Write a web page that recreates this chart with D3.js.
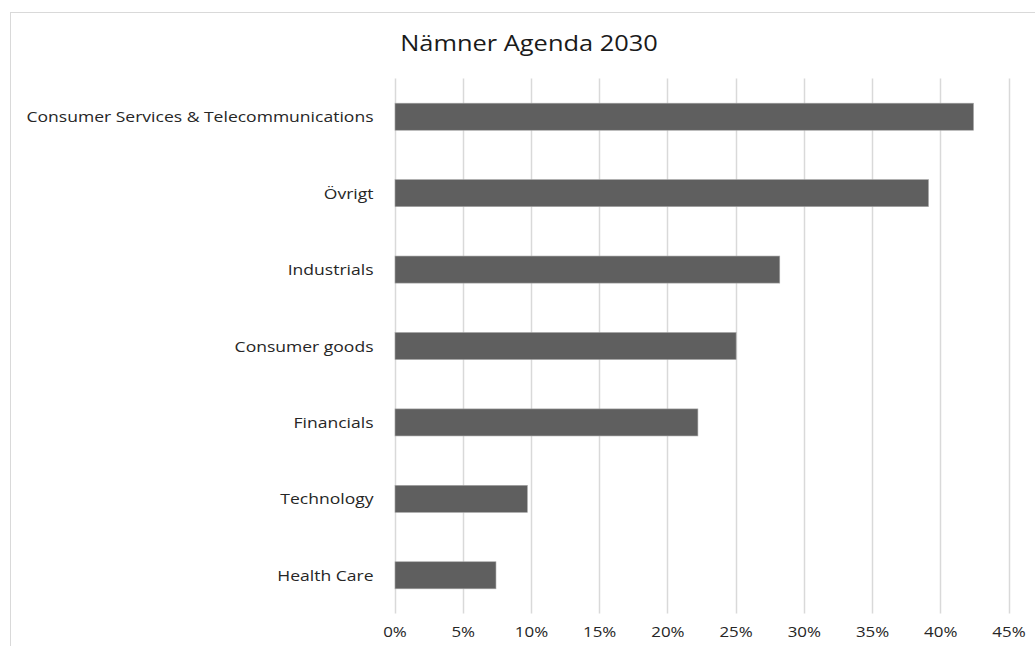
<!DOCTYPE html>
<html>
<head>
<meta charset="utf-8">
<script src="https://cdn.jsdelivr.net/npm/d3@7"></script>
<style>
  html, body { margin: 0; padding: 0; background: #fff; }
  svg { display: block; font-family: "Open Sans", sans-serif; }
</style>
</head>
<body>
<svg id="chart" width="1035" height="646"></svg>
<script>
// Share of companies mentioning Agenda 2030, by sector
const categories = [
  "Consumer Services & Telecommunications",
  "Övrigt",
  "Industrials",
  "Consumer goods",
  "Financials",
  "Technology",
  "Health Care"
];
const values = [0.424, 0.391, 0.282, 0.250, 0.222, 0.097, 0.074];
const tickValues = [0, 0.05, 0.10, 0.15, 0.20, 0.25, 0.30, 0.35, 0.40, 0.45];
const title = "Nämner Agenda 2030";

// all text is drawn slightly widened
const stretch = 1.21;

const svg = d3.select("#chart");

// chart frame
svg.append("rect")
  .attr("x", 10.5).attr("y", 12.5)
  .attr("width", 1100).attr("height", 700)
  .attr("fill", "none").attr("stroke", "#d9d9d9").attr("stroke-width", 1);

const plot = { left: 394.5, right: 1008.5, top: 78.5, bottom: 613.5 };

const x = d3.scaleLinear().domain([0, 0.45]).range([plot.left, plot.right]);
const y = d3.scaleBand().domain(categories).range([plot.top, plot.bottom])
  .paddingInner(0.646).paddingOuter(0.323);

// vertical gridlines
svg.append("g").selectAll("line").data(tickValues).join("line")
  .attr("x1", d => Math.round(x(d)) + 0.5).attr("x2", d => Math.round(x(d)) + 0.5)
  .attr("y1", plot.top).attr("y2", plot.bottom)
  .attr("stroke", "#d9d9d9").attr("stroke-width", 1.5);

// bars
svg.append("g").selectAll("rect").data(categories).join("rect")
  .attr("x", x(0) + 0.5)
  .attr("y", d => y(d))
  .attr("width", (d, i) => x(values[i]) - x(0))
  .attr("height", y.bandwidth())
  .attr("fill", "#5f5f5f")
  .attr("stroke", "#a6a6a6").attr("stroke-width", 0.6);

// category labels
const yAxis = d3.axisLeft(y).tickSize(0).tickPadding(20);
const gy = svg.append("g").attr("transform", `translate(${plot.left},0)`).call(yAxis);
gy.select(".domain").remove();
gy.selectAll("text")
  .attr("x", 0)
  .attr("dy", "0.38em")
  .attr("transform", `translate(-21,0) scale(${stretch},1)`)
  .attr("font-family", "Open Sans, sans-serif")
  .attr("font-size", 14.5)
  .attr("fill", "#262626");

// percentage axis
const xAxis = d3.axisBottom(x).tickValues(tickValues).tickFormat(d3.format(".0%"))
  .tickSize(0).tickPadding(12);
const gx = svg.append("g").attr("transform", `translate(0,${plot.bottom})`).call(xAxis);
gx.select(".domain").remove();
gx.selectAll("text")
  .attr("y", 0)
  .attr("dy", 0)
  .attr("transform", `translate(0,23.5) scale(${stretch},1)`)
  .attr("font-family", "Open Sans, sans-serif")
  .attr("font-size", 14)
  .attr("fill", "#262626");

// title
svg.append("text")
  .attr("transform", `translate(529,50.7) scale(${stretch},1)`)
  .attr("text-anchor", "middle")
  .attr("font-family", "Open Sans, sans-serif")
  .attr("font-size", 21)
  .attr("fill", "#1a1a1a")
  .text(title);
</script>
</body>
</html>
